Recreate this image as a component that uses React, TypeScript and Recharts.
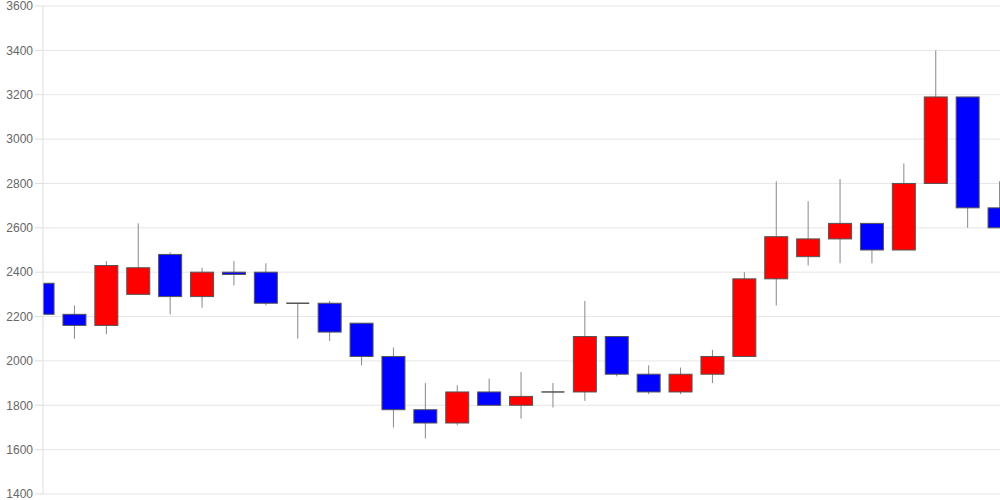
import React from "react";
import { ComposedChart, Bar, XAxis, YAxis, CartesianGrid } from "recharts";

const days = [
  0, 1, 2, 3, 4, 5, 6, 7, 8, 9, 10, 11, 12, 13, 14, 15, 16, 17, 18, 19, 20,
  21, 22, 23, 24, 25, 26, 27, 28, 29, 30,
];
const opens = [
  2350, 2210, 2160, 2300, 2480, 2290, 2400, 2400, 2260, 2260, 2170, 2020, 1780,
  1720, 1860, 1800, 1860, 1860, 2110, 1940, 1860, 1940, 2020, 2370, 2470, 2550,
  2620, 2500, 2800, 3190, 2690,
];
const closes = [
  2210, 2160, 2430, 2420, 2290, 2400, 2390, 2260, 2260, 2130, 2020, 1780, 1720,
  1860, 1800, 1840, 1860, 2110, 1940, 1860, 1940, 2020, 2370, 2560, 2550, 2620,
  2500, 2800, 3190, 2690, 2600,
];
const highs = [
  2450, 2250, 2450, 2620, 2490, 2420, 2450, 2440, 2260, 2270, 2170, 2060, 1900,
  1890, 1920, 1950, 1900, 2270, 2110, 1980, 1970, 2050, 2400, 2810, 2720, 2820,
  2620, 2890, 3400, 3190, 2810,
];
const lows = [
  2150, 2100, 2120, 2300, 2210, 2240, 2340, 2250, 2100, 2090, 1980, 1700, 1650,
  1710, 1800, 1740, 1790, 1820, 1930, 1850, 1850, 1900, 2020, 2250, 2430, 2440,
  2440, 2500, 2800, 2600, 2600,
];
const yTicks = [1400, 1600, 1800, 2000, 2200, 2400, 2600, 2800, 3000, 3200, 3400, 3600];

const data = days.map((d, i) => ({
  day: d,
  open: opens[i],
  close: closes[i],
  high: highs[i],
  low: lows[i],
}));

// draws wick + body inside the [low, high] range bar
const Candle = (props: any) => {
  const { x, y, width, height, payload } = props;
  const { open, close, high, low } = payload;
  const ppu = height / (high - low);
  const cx = x + width / 2;
  const top = y + (high - Math.max(open, close)) * ppu;
  const bodyH = Math.abs(open - close) * ppu;
  const up = close > open;
  return (
    <g>
      <line x1={cx} x2={cx} y1={y} y2={y + height} stroke="#888" strokeWidth={1} />
      {bodyH < 1 ? (
        <line x1={x} x2={x + width} y1={top} y2={top} stroke="#555" strokeWidth={1.5} />
      ) : (
        <rect
          x={x}
          y={top}
          width={width}
          height={bodyH}
          fill={up ? "#ff0000" : "#0000ff"}
          stroke="#555"
          strokeWidth={1}
        />
      )}
    </g>
  );
};

export default function App() {
  return (
    <div style={{ position: "absolute", left: 0, top: 0, fontFamily: "'Liberation Sans', Arial, sans-serif" }}>
      <ComposedChart
        width={1000}
        height={500}
        data={data}
        margin={{ top: 6, right: 0, bottom: 6, left: 0 }}
      >
        <CartesianGrid vertical={false} stroke="#e6e6e6" />
        <XAxis
          dataKey="day"
          type="number"
          domain={[0, 30]}
          allowDataOverflow
          hide
        />
        <YAxis
          width={43}
          domain={[1400, 3600]}
          ticks={yTicks}
          interval={0}
          tickSize={8}
          stroke="#ddd"
          tick={{ fill: "#666", fontSize: 12 }}
        />
        <Bar
          dataKey={(d: any) => [d.low, d.high]}
          barSize={23}
          shape={Candle}
          isAnimationActive={false}
        />
      </ComposedChart>
    </div>
  );
}
